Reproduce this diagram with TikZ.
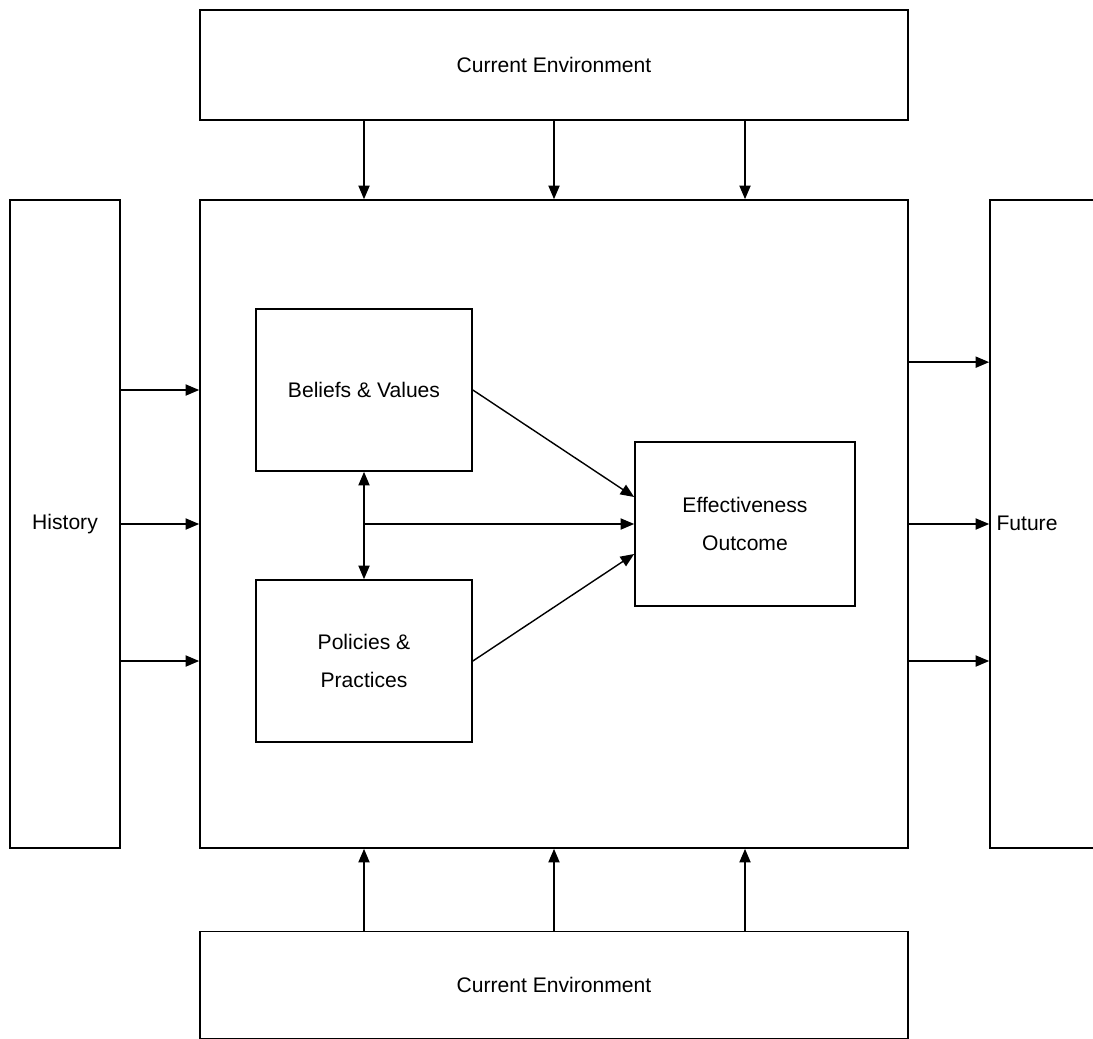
\documentclass[tikz,border=0pt]{standalone}
\usepackage{fontspec}
\setmainfont{Liberation Sans}
\usetikzlibrary{positioning,calc,arrows.meta}
\tikzstyle{block} = [rectangle, draw=black, line width=1.2pt, inner sep=0pt, align=center, font=\fontsize{15}{27}\selectfont]
\tikzstyle{arrow} = [line width=1pt, -{Triangle[length=3.4mm, width=2.8mm]}]
\tikzstyle{twoway} = [line width=1pt, {Triangle[length=3.4mm, width=2.8mm]}-{Triangle[length=3.4mm, width=2.8mm]}]

\begin{document}
\begin{tikzpicture}[x=0.025cm, y=-0.025cm]

\useasboundingbox (0,0) rectangle (1093,1039);
\clip (0,0) rectangle (1093,1039);


% Environment

	\node (organisation) [block, minimum width=708*0.025cm, minimum height=648*0.025cm] at (554,524) {};

	\node (envTop) [block, minimum width=708*0.025cm, minimum height=110*0.025cm] at (554,65) {Current Environment};

	\node (envBottom) [block, minimum width=708*0.025cm, minimum height=107*0.025cm] at (554,985) {Current Environment};


% Time

	\node (history) [block, minimum width=110*0.025cm, minimum height=648*0.025cm] at (65,524) {History};

	\node (future) [block, minimum width=120*0.025cm, minimum height=648*0.025cm] at (1050,524) {};
	\node (futureText) [font=\fontsize{15}{27}\selectfont, inner sep=0pt] at (1027,523) {Future};


% Inner blocks

	\node (beliefs) [block, minimum width=216*0.025cm, minimum height=162*0.025cm] at (364,390) {Beliefs \& Values};

	\node (policies) [block, minimum width=216*0.025cm, minimum height=162*0.025cm] at (364,661) {Policies \&\\Practices};

	\node (outcome) [block, minimum width=220*0.025cm, minimum height=164*0.025cm] at (745,524) {Effectiveness\\Outcome};


% Environment arrows

	\draw [arrow] (beliefs |- envTop.south) -- (beliefs |- organisation.north);
	\draw [arrow] (envTop.south) -- (organisation.north);
	\draw [arrow] (outcome |- envTop.south) -- (outcome |- organisation.north);

	\draw [arrow] (beliefs |- envBottom.north) -- (beliefs |- organisation.south);
	\draw [arrow] (envBottom.north) -- (organisation.south);
	\draw [arrow] (outcome |- envBottom.north) -- (outcome |- organisation.south);


% History arrows

	\draw [arrow] (history.east |- beliefs) -- (organisation.west |- beliefs);
	\draw [arrow] (history.east) -- (organisation.west);
	\draw [arrow] (history.east |- policies) -- (organisation.west |- policies);


% Future arrows

	\draw [arrow] ($(organisation.north east)+(0,163)$) -- ($(future.north west)+(0,163)$);
	\draw [arrow] (organisation.east) -- (future.west);
	\draw [arrow] (organisation.east |- policies) -- (future.west |- policies);


% Inner arrows

	\draw [twoway] (beliefs.south) -- (policies.north);
	\coordinate (mid) at (beliefs.south |- outcome.west);
	\draw [arrow] (mid) -- (outcome.west);

	\draw [arrow] (beliefs.east) -- ($(outcome.west)+(0,-27)$);
	\draw [arrow] (policies.east) -- ($(outcome.west)+(0,30)$);


\end{tikzpicture}
\end{document}
